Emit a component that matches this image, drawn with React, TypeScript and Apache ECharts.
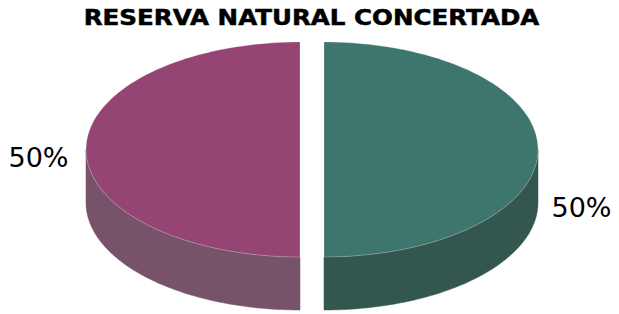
import React, { useEffect, useRef } from "react";
import * as echarts from "echarts";

const TITLE = "RESERVA NATURAL CONCERTADA";
const CATEGORIES = ["Serie 1", "Serie 2"];
const VALUES = [50, 50];
const TOP_COLORS = ["#3e756c", "#944574"];
const SIDE_COLORS = ["#33574f", "#765368"];
const LABEL_OFFSETS = [
  [43.5, 57.5],
  [-47.5, 7.5],
];

const CX = 312;
const CY = 149.5;
const RX = 214;
const RY = 107.5;
const DEPTH = 53;
const EXPLODE = 12;

function renderItem(params: any, api: any) {
  const i = params.dataIndex;
  const total = VALUES.reduce((a, b) => a + b, 0);
  let before = 0;
  for (let k = 0; k < i; k++) before += VALUES[k];
  const v = api.value(0);
  const start = -Math.PI / 2 + (2 * Math.PI * before) / total;
  const end = start + (2 * Math.PI * v) / total;
  const mid = (start + end) / 2;
  const ox = CX + EXPLODE * Math.cos(mid);
  const oy = CY + EXPLODE * (RY / RX) * Math.sin(mid);
  const N = 90;
  const top: number[][] = [[ox, oy]];
  for (let k = 0; k <= N; k++) {
    const t = start + ((end - start) * k) / N;
    top.push([ox + RX * Math.cos(t), oy + RY * Math.sin(t)]);
  }
  const children: any[] = [];
  const a = Math.max(start, 0);
  const b = Math.min(end, Math.PI);
  if (b > a) {
    const side: number[][] = [];
    for (let k = 0; k <= N; k++) {
      const t = a + ((b - a) * k) / N;
      side.push([ox + RX * Math.cos(t), oy + RY * Math.sin(t)]);
    }
    for (let k = N; k >= 0; k--) {
      const t = a + ((b - a) * k) / N;
      side.push([ox + RX * Math.cos(t), oy + RY * Math.sin(t) + DEPTH]);
    }
    children.push({
      type: "polygon",
      shape: { points: side },
      style: { fill: SIDE_COLORS[i], stroke: SIDE_COLORS[i], lineWidth: 0.5 },
    });
  }
  children.push({
    type: "polygon",
    shape: { points: top },
    style: { fill: TOP_COLORS[i], stroke: "rgba(255,255,255,0.35)", lineWidth: 0.7 },
  });
  const lx = ox + RX * Math.cos(mid) + LABEL_OFFSETS[i][0];
  const ly = oy + RY * Math.sin(mid) + LABEL_OFFSETS[i][1];
  children.push({
    type: "text",
    style: {
      text: Math.round((v / total) * 100) + "%",
      x: lx,
      y: ly,
      fill: "#000000",
      fontSize: 27,
      fontFamily: "DejaVu Sans",
      align: "center",
      verticalAlign: "middle",
    },
  });
  return { type: "group", children };
}

export default function App() {
  const ref = useRef<HTMLDivElement>(null);
  useEffect(() => {
    if (!ref.current) return;
    const chart = echarts.init(ref.current, null, { renderer: "svg" });
    chart.setOption({
      animation: false,
      backgroundColor: "#ffffff",
      graphic: [
        {
          type: "text",
          x: 311.5,
          y: 17.5,
          scaleX: 1.17,
          style: {
            text: TITLE,
            x: 0,
            y: 0,
            fill: "#000000",
            stroke: "#000000",
            lineWidth: 0.5,
            fontFamily: "DejaVu Sans",
            fontWeight: "bold",
            fontSize: 21,
            align: "center",
            verticalAlign: "middle",
          },
        },
      ],
      series: [
        {
          type: "custom",
          coordinateSystem: "none",
          renderItem,
          data: VALUES.map((v, idx) => ({ name: CATEGORIES[idx], value: [v] })),
        },
      ],
    });
    return () => chart.dispose();
  }, []);
  return (
    <div
      ref={ref}
      style={{ position: "fixed", left: 0, top: 0, width: 619, height: 314 }}
    />
  );
}
